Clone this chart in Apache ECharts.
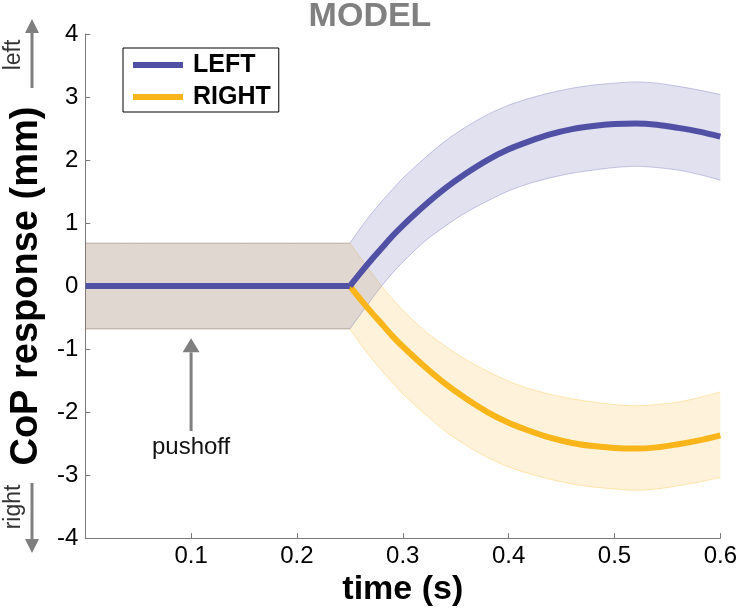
<!DOCTYPE html>
<html>
<head>
<meta charset="utf-8">
<script src="https://cdn.jsdelivr.net/npm/echarts@6/dist/echarts.min.js"></script>
<style>
html,body{margin:0;padding:0;background:#fff;}
#c{width:740px;height:612px;}
</style>
</head>
<body>
<div id="c"></div>
<script>
// ---- data ----
const times      = [0, 0.25, 0.26, 0.27, 0.28, 0.29, 0.30, 0.32, 0.34, 0.36, 0.38, 0.40, 0.42, 0.44, 0.46, 0.48, 0.50, 0.52, 0.54, 0.56, 0.58, 0.60];
const leftMean   = [0, 0, 0.21, 0.41, 0.60, 0.79, 0.96, 1.27, 1.55, 1.79, 2.00, 2.17, 2.30, 2.41, 2.49, 2.54, 2.57, 2.58, 2.56, 2.51, 2.45, 2.37];
const leftUpper  = [0.68, 0.68, 0.92, 1.14, 1.34, 1.53, 1.71, 2.02, 2.30, 2.53, 2.72, 2.87, 2.98, 3.07, 3.14, 3.19, 3.22, 3.24, 3.22, 3.17, 3.11, 3.04];
const leftLower  = [-0.68, -0.68, -0.45, -0.22, 0.00, 0.20, 0.38, 0.70, 0.95, 1.17, 1.35, 1.51, 1.63, 1.72, 1.79, 1.84, 1.88, 1.90, 1.88, 1.84, 1.77, 1.68];
const rightMean  = [0, 0, -0.21, -0.41, -0.60, -0.79, -0.96, -1.27, -1.55, -1.79, -2.00, -2.17, -2.30, -2.41, -2.49, -2.54, -2.57, -2.58, -2.56, -2.51, -2.45, -2.37];
const rightUpper = [0.68, 0.68, 0.45, 0.22, 0.00, -0.20, -0.38, -0.70, -0.95, -1.17, -1.35, -1.51, -1.63, -1.72, -1.79, -1.84, -1.88, -1.90, -1.88, -1.84, -1.77, -1.68];
const rightLower = [-0.68, -0.68, -0.92, -1.14, -1.34, -1.53, -1.71, -2.02, -2.30, -2.53, -2.72, -2.87, -2.98, -3.07, -3.14, -3.19, -3.22, -3.24, -3.22, -3.17, -3.11, -3.04];
const kinkIndex = 1; // response onset at t = 0.25
const xTicks = [0, 0.1, 0.2, 0.3, 0.4, 0.5, 0.6];
const yTicks = [-4, -3, -2, -1, 0, 1, 2, 3, 4];
const seriesNames = ['LEFT', 'RIGHT'];
const pushoffTime = 0.1;
const pushoffArrow = [-2.30, -0.83];
const pushoffLabelY = -2.56;

const FONT = "'Liberation Sans', Arial, Helvetica, sans-serif";
const BLUE = '#5050a5';
const GOLD = '#f9b51a';
const SMOOTH = 0.3;

// duplicate the points at the given indices so that zrender's smoothing keeps those corners sharp
function withCorners(pts, idxs) {
  const out = [];
  pts.forEach((p, i) => { out.push(p); if (idxs.indexOf(i) >= 0) out.push([p[0], p[1]]); });
  return out;
}

function band(name, upper, lower, fill, edge) {
  return {
    type: 'custom',
    name: name,
    silent: true,
    z: 1,
    data: times.map((t, i) => [t, upper[i], lower[i]]),
    encode: { x: 0, y: [1, 2] },
    renderItem: function (params, api) {
      if (params.dataIndex !== 0) return null;
      const last = times.length - 1;
      const up = times.map((t, i) => api.coord([t, upper[i]]));
      const lo = times.map((t, i) => api.coord([t, lower[i]]));
      const upC = withCorners(up, [0, kinkIndex, last]);
      const loC = withCorners(lo, [0, kinkIndex, last]);
      const poly = upC.concat(loC.slice().reverse());
      return {
        type: 'group',
        children: [
          { type: 'polygon', shape: { points: poly, smooth: SMOOTH }, style: { fill: fill, stroke: null } },
          { type: 'polyline', shape: { points: withCorners(up, [kinkIndex]), smooth: SMOOTH }, style: { fill: null, stroke: edge, lineWidth: 1 } },
          { type: 'polyline', shape: { points: withCorners(lo, [kinkIndex]), smooth: SMOOTH }, style: { fill: null, stroke: edge, lineWidth: 1 } }
        ]
      };
    }
  };
}

function lineSeries(name, vals, color) {
  const common = {
    type: 'line', symbol: 'none', showSymbol: false, silent: true, z: 2,
    lineStyle: { color: color, width: 6, cap: 'butt', join: 'round' },
    itemStyle: { color: color }
  };
  return [
    Object.assign({}, common, {
      name: name + '-flat',
      data: times.slice(0, kinkIndex + 1).map((t, i) => [t, vals[i]])
    }),
    Object.assign({}, common, {
      name: name,
      smooth: SMOOTH,
      data: times.slice(kinkIndex).map((t, i) => [t, vals[i + kinkIndex]])
    })
  ];
}

const chart = echarts.init(document.getElementById('c'), null, { renderer: 'canvas' });
chart.setOption({
  animation: false,
  backgroundColor: '#fff',
  title: {
    text: 'MODEL',
    left: 'center',
    top: 0,
    padding: 0,
    textStyle: { fontFamily: FONT, fontSize: 34, fontWeight: 'bold', color: '#808080' }
  },
  legend: {
    data: seriesNames,
    orient: 'vertical',
    left: 123,
    top: 48,
    padding: [4, 8, 2, 10],
    itemWidth: 50,
    itemHeight: 6,
    itemGap: 6,
    icon: 'rect',
    borderColor: '#000',
    borderWidth: 1,
    backgroundColor: '#fff',
    textStyle: { fontFamily: FONT, fontSize: 25, fontWeight: 'bold', color: '#000', lineHeight: 26, padding: [0, 0, 0, 5] }
  },
  grid: { left: 82, right: 16, top: 34, bottom: 69, containLabel: false },
  xAxis: {
    type: 'value',
    min: xTicks[0],
    max: xTicks[xTicks.length - 1],
    interval: 0.1,
    name: 'time (s)',
    nameLocation: 'middle',
    nameGap: 31,
    nameTextStyle: { fontFamily: FONT, fontSize: 34, fontWeight: 'bold', color: '#000' },
    axisLine: { onZero: false, lineStyle: { color: '#7a7a7a', width: 1 } },
    axisTick: { inside: true, length: 5, lineStyle: { color: '#7a7a7a' } },
    axisLabel: {
      fontFamily: FONT, fontSize: 24, color: '#000', margin: 6,
      showMinLabel: false,
      formatter: v => (v === 0 ? '' : v.toFixed(1))
    },
    splitLine: { show: false }
  },
  yAxis: {
    type: 'value',
    min: yTicks[0],
    max: yTicks[yTicks.length - 1],
    interval: 1,
    name: 'CoP response (mm)',
    nameLocation: 'middle',
    nameGap: 38,
    nameTextStyle: { fontFamily: FONT, fontSize: 38, fontWeight: 'bold', color: '#000' },
    axisLine: { onZero: false, lineStyle: { color: '#7a7a7a', width: 1 } },
    axisTick: { inside: true, length: 5, lineStyle: { color: '#7a7a7a' } },
    axisLabel: { fontFamily: FONT, fontSize: 24, color: '#000', margin: 7 },
    splitLine: { show: false }
  },
  series: []
    .concat([band('RIGHT-band', rightUpper, rightLower, 'rgba(249,181,26,0.16)', 'rgba(249,181,26,0.30)')])
    .concat(lineSeries('RIGHT', rightMean, GOLD))
    .concat([band('LEFT-band', leftUpper, leftLower, 'rgba(80,80,165,0.17)', 'rgba(80,80,165,0.30)')])
    .concat(lineSeries('LEFT', leftMean, BLUE))
});

// ---- annotations ----
function arrow(x, y1, y2, color, headW, headL, w) {
  const dir = y2 < y1 ? -1 : 1;
  const baseY = y2 - dir * headL;
  return [
    { type: 'line', shape: { x1: x, y1: y1, x2: x, y2: baseY }, style: { stroke: color, lineWidth: w }, silent: true },
    { type: 'polygon', shape: { points: [[x, y2], [x - headW / 2, baseY], [x + headW / 2, baseY]] }, style: { fill: color }, silent: true }
  ];
}
const tail = chart.convertToPixel({ gridIndex: 0 }, [pushoffTime, pushoffArrow[0]]);
const tip = chart.convertToPixel({ gridIndex: 0 }, [pushoffTime, pushoffArrow[1]]);
const lbl = chart.convertToPixel({ gridIndex: 0 }, [pushoffTime, pushoffLabelY]);
const GRAY = '#7f7f7f';
const elements = []
  .concat(arrow(tail[0], tail[1], tip[1], GRAY, 17, 14, 3))
  .concat(arrow(32, 88, 19, GRAY, 14, 14, 3))
  .concat(arrow(32, 483, 553, GRAY, 14, 14, 3));
elements.push({
  type: 'text', x: lbl[0], y: lbl[1], silent: true,
  style: { text: 'pushoff', fontFamily: FONT, fontSize: 24, fill: '#111', align: 'center', verticalAlign: 'middle' }
});
elements.push({
  type: 'text', x: 14, y: 55, rotation: Math.PI / 2, silent: true,
  style: { text: 'left', fontFamily: FONT, fontSize: 23, fill: '#333', align: 'center', verticalAlign: 'middle' }
});
elements.push({
  type: 'text', x: 14, y: 507, rotation: Math.PI / 2, silent: true,
  style: { text: 'right', fontFamily: FONT, fontSize: 23, fill: '#333', align: 'center', verticalAlign: 'middle' }
});
chart.setOption({ graphic: { elements: elements } });
</script>
</body>
</html>
